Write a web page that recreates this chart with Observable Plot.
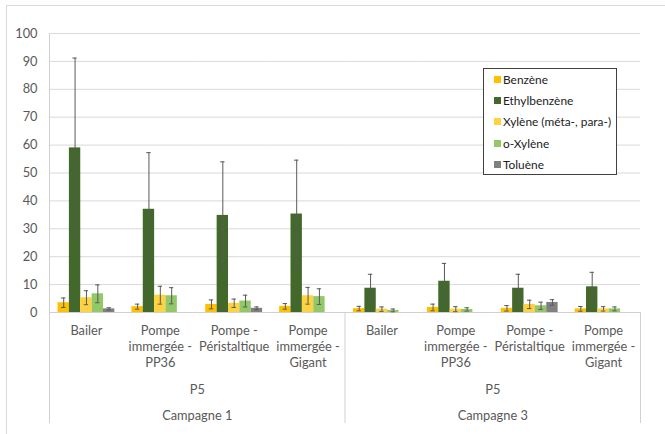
<!DOCTYPE html>
<html>
<head>
<meta charset="utf-8">
<script src="https://cdn.jsdelivr.net/npm/d3@7"></script>
<script src="https://cdn.jsdelivr.net/npm/@observablehq/plot@0.6"></script>
<style>
  html, body { margin: 0; padding: 0; background: #fff; }
  #wrap { position: relative; width: 665px; height: 434px; overflow: hidden; font-family: Lato, sans-serif; }
  #border { position: absolute; left: 6px; top: 5px; width: 800px; height: 600px; border-left: 1px solid #d9d9d9; border-top: 1px solid #d9d9d9; }
  #legend { position: absolute; left: 483px; top: 68px; width: 134px; height: 107px; box-sizing: border-box;
            border: 1px solid #404040; background: #fff; padding: 0 0 0 10px; font-size: 11.9px; color: #222; }
  .item { height: 21.2px; display: flex; align-items: center; white-space: nowrap; }
  .sw { width: 7px; height: 7px; margin-right: 2px; flex: none; }
  svg { position: absolute; left: 0; top: 0; }
</style>
</head>
<body>
<div id="wrap"><div id="border"></div></div>
<script>
// ---- data ----
const seriesNames = ["Benzène", "Ethylbenzène", "Xylène (méta-, para-)", "o-Xylène", "Toluène"];
const seriesColors = ["#FFC000", "#43682B", "#FFD23F", "#92C867", "#808080"];
const campaigns = ["Campagne 1", "Campagne 3"];
const wellLabels = ["P5", "P5"];
const methodLabels = ["Bailer", "Pompe\nimmergée -\nPP36", "Pompe -\nPéristaltique", "Pompe\nimmergée -\nGigant"];
const yTicks = [0, 10, 20, 30, 40, 50, 60, 70, 80, 90, 100];

// values per series: Campagne 1 (4 methods) then Campagne 3 (4 methods)
const benzene      = [3.5, 2.1, 2.9, 2.2, 1.4, 1.8, 1.5, 1.3];
const benzeneSD    = [1.7, 0.9, 1.6, 1.0, 0.8, 1.2, 1.0, 0.85];
const ethylbenz    = [59.0, 37.0, 34.8, 35.3, 8.7, 11.2, 8.7, 9.2];
const ethylbenzSD  = [32.2, 20.3, 19.2, 19.3, 5.0, 6.4, 5.0, 5.2];
const xyleneMP     = [5.3, 6.2, 3.3, 6.0, 1.2, 1.2, 2.9, 1.3];
const xyleneMPSD   = [2.5, 3.2, 1.5, 3.0, 0.8, 0.9, 1.5, 0.8];
const oXylene      = [6.7, 6.0, 4.1, 5.7, 0.75, 1.1, 2.4, 1.3];
const oXyleneSD    = [3.2, 2.9, 2.1, 2.8, 0.5, 0.6, 1.3, 0.7];
const toluene      = [1.3, null, 1.5, null, null, null, 3.6, null];
const tolueneSD    = [0.4, null, 0.5, null, null, null, 1.0, null];

const seriesValues = [benzene, ethylbenz, xyleneMP, oXylene, toluene];
const seriesSD = [benzeneSD, ethylbenzSD, xyleneMPSD, oXyleneSD, tolueneSD];

// ---- derived table ----
const keys = [];
campaigns.forEach((c, ci) => methodLabels.forEach((m, mi) => keys.push(ci + "|" + mi)));
const table = [];
keys.forEach((k, ki) => seriesNames.forEach((s, si) => {
  const v = seriesValues[si][ki];
  if (v != null) table.push({key: k, series: s, value: v, sd: seriesSD[si][ki]});
}));
const groupLabels = campaigns.map((c, ci) => ({key: ci + "|1", well: wellLabels[ci], campaign: c}));

// ---- layout ----
const W = 665, H = 434, mL = 49, mR = 25, mT = 33, mB = 122;
const xPadOuter = 0.75;
const step = (W - mL - mR) / keys.length;
const bw = step / (seriesNames.length + 2 * xPadOuter);
const edgeOff = (xPadOuter + 0.5) * bw;
const leftEdges = [{key: "1|0", x: seriesNames[0]}];
const rightEdges = [{key: "1|3", x: seriesNames[4]}];
const axisEdge = [{key: "0|0", x: seriesNames[0]}];

const plot = Plot.plot({
  width: W, height: H,
  marginLeft: mL, marginRight: mR, marginTop: mT, marginBottom: mB,
  style: {fontFamily: "Lato, sans-serif", fontSize: "12.8px", color: "#595959", background: "transparent", overflow: "visible"},
  fx: {domain: keys, paddingInner: 0, paddingOuter: 0, round: false, axis: null},
  x: {domain: seriesNames, paddingInner: 0, paddingOuter: xPadOuter, round: false, axis: null},
  y: {domain: [0, 100], axis: null},
  color: {domain: seriesNames, range: seriesColors},
  marks: [
    Plot.ruleY(yTicks.filter(t => t > 0), {stroke: "#d9d9d9", strokeWidth: 1}),
    Plot.ruleY([0], {stroke: "#cfcfcf", strokeWidth: 1}),
    Plot.barY(table, {fx: "key", x: "series", y: "value", fill: "series"}),
    Plot.ruleX(table, {fx: "key", x: "series", y1: d => d.value - d.sd, y2: d => d.value + d.sd, stroke: "#595959", strokeWidth: 1}),
    Plot.tickY(table, {fx: "key", x: "series", y: d => d.value - d.sd, stroke: "#595959", strokeWidth: 1, insetLeft: 3.5, insetRight: 3.5}),
    Plot.tickY(table, {fx: "key", x: "series", y: d => d.value + d.sd, stroke: "#595959", strokeWidth: 1, insetLeft: 3.5, insetRight: 3.5}),
    Plot.ruleX(axisEdge, {fx: "key", x: "x", dx: -edgeOff, stroke: "#d0d0d0", insetBottom: -111}),
    Plot.ruleX(leftEdges, {fx: "key", x: "x", y1: 0, y2: 0, dx: -edgeOff, stroke: "#d0d0d0", insetBottom: -111}),
    Plot.ruleX(rightEdges, {fx: "key", x: "x", y1: 0, y2: 0, dx: edgeOff, stroke: "#d0d0d0", insetBottom: -111}),
    Plot.axisY({ticks: yTicks, tickSize: 0, tickPadding: 12, label: null, fill: "#595959"}),
    Plot.axisFx({domain: keys, anchor: "bottom", tickSize: 0, tickPadding: 11, label: null, lineHeight: 1.26, fill: "#595959",
                 tickFormat: k => methodLabels[+k.split("|")[1]]}),
    Plot.text(groupLabels, {fx: "key", text: "well", frameAnchor: "bottom-right", textAnchor: "middle", lineAnchor: "middle", dy: 77, fill: "#595959"}),
    Plot.text(groupLabels, {fx: "key", text: "campaign", frameAnchor: "bottom-right", textAnchor: "middle", lineAnchor: "middle", dy: 103, fill: "#595959"})
  ]
});
const wrap = document.getElementById("wrap");
wrap.appendChild(plot);

// legend
const legend = document.createElement("div");
legend.id = "legend";
seriesNames.forEach((s, i) => {
  const it = document.createElement("div");
  it.className = "item";
  const sw = document.createElement("span");
  sw.className = "sw";
  sw.style.background = seriesColors[i];
  it.appendChild(sw);
  it.appendChild(document.createTextNode(s));
  legend.appendChild(it);
});
wrap.appendChild(legend);
</script>
</body>
</html>
